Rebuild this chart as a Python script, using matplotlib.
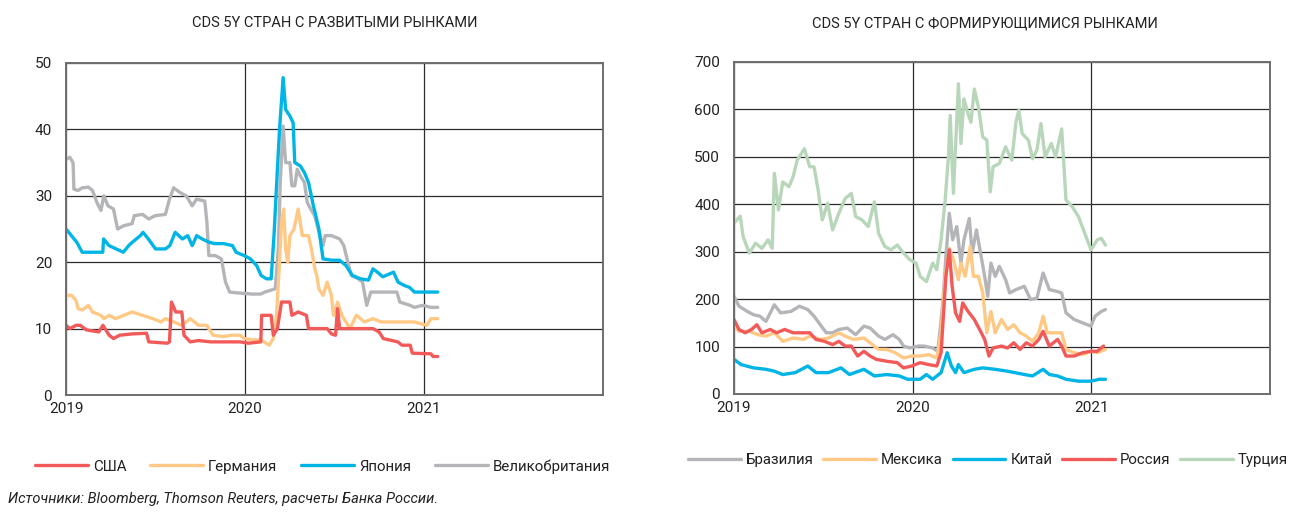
import matplotlib
matplotlib.use("Agg")
import matplotlib.pyplot as plt

plt.rcParams['font.family'] = ['Roboto', 'DejaVu Sans']

# time is in years since 1 Jan 2019
usa_t = [0.000, 0.021, 0.056, 0.079, 0.114, 0.183, 0.206, 0.241, 0.265, 0.299, 0.369, 0.450, 0.462,
         0.566, 0.578, 0.589, 0.613, 0.647, 0.659, 0.694, 0.740, 0.810, 0.972, 1.019, 1.088, 1.093,
         1.146, 1.158, 1.181, 1.204, 1.251, 1.262, 1.297, 1.343, 1.355, 1.459, 1.483, 1.506, 1.517,
         1.529, 1.715, 1.749, 1.773, 1.854, 1.877, 1.923, 1.935, 2.039, 2.051, 2.077]
usa = [10.5, 10.0, 10.5, 10.5, 9.8, 9.5, 10.5, 9.0, 8.5, 9.0, 9.2, 9.3, 8.0,
       7.8, 8.0, 14.0, 12.5, 12.5, 9.0, 8.0, 8.2, 8.0, 8.0, 7.8, 8.0, 12.0,
       12.0, 9.0, 10.0, 14.0, 14.0, 12.0, 12.5, 12.0, 10.0, 10.0, 9.2, 9.0, 13.0,
       10.0, 10.0, 9.5, 8.5, 8.0, 7.5, 7.5, 6.3, 6.2, 5.8, 5.8]

ger_t = [0.000, 0.032, 0.056, 0.067, 0.090, 0.125, 0.148, 0.195, 0.211, 0.241, 0.276, 0.323, 0.369,
         0.427, 0.485, 0.531, 0.555, 0.601, 0.647, 0.694, 0.740, 0.787, 0.821, 0.879, 0.926, 0.972,
         0.995, 1.042, 1.088, 1.135, 1.158, 1.176, 1.193, 1.204, 1.216, 1.227, 1.239, 1.251, 1.274,
         1.297, 1.320, 1.355, 1.371, 1.390, 1.401, 1.413, 1.436, 1.459, 1.483, 1.494, 1.517, 1.541,
         1.564, 1.587, 1.622, 1.668, 1.715, 1.761, 1.831, 1.900, 1.947, 2.016, 2.039, 2.077]
ger = [15.0, 15.0, 14.2, 13.0, 12.8, 13.5, 12.5, 12.0, 11.5, 12.0, 11.5, 12.0, 12.5,
       12.0, 11.5, 11.0, 11.5, 11.0, 10.5, 11.5, 10.5, 10.5, 9.0, 8.8, 9.0, 9.0,
       8.5, 8.3, 8.3, 7.5, 8.5, 12.0, 20.0, 26.0, 28.0, 22.0, 20.0, 24.0, 25.0,
       28.0, 24.0, 24.0, 22.0, 19.0, 18.0, 16.0, 15.0, 17.0, 15.0, 12.0, 14.0, 12.0,
       11.0, 10.0, 12.0, 11.0, 11.5, 11.0, 11.0, 11.0, 11.0, 10.5, 11.5, 11.5]

jpn_t = [0.000, 0.030, 0.060, 0.090, 0.205, 0.210, 0.240, 0.280, 0.320, 0.350, 0.370, 0.415, 0.430,
         0.460, 0.500, 0.555, 0.580, 0.610, 0.650, 0.680, 0.705, 0.730, 0.760, 0.800, 0.830, 0.880,
         0.930, 0.950, 0.995, 1.030, 1.065, 1.090, 1.120, 1.146, 1.162, 1.181, 1.193, 1.213, 1.227,
         1.251, 1.269, 1.278, 1.309, 1.332, 1.355, 1.378, 1.413, 1.436, 1.483, 1.529, 1.564, 1.600,
         1.645, 1.690, 1.715, 1.740, 1.770, 1.830, 1.855, 1.890, 1.920, 1.947, 2.077]
jpn = [25.0, 24.0, 23.0, 21.5, 21.5, 23.5, 22.5, 22.0, 21.5, 22.5, 23.0, 24.0, 24.5,
       23.5, 22.0, 22.0, 22.5, 24.5, 23.5, 24.0, 22.5, 24.0, 23.5, 23.0, 22.8, 22.8,
       22.5, 21.5, 21.0, 20.5, 19.5, 18.0, 17.5, 17.5, 24.0, 34.0, 40.0, 47.8, 43.0,
       42.0, 41.0, 35.0, 34.5, 33.5, 32.0, 29.0, 25.0, 20.5, 20.3, 20.3, 19.5, 18.0,
       17.5, 17.3, 19.0, 18.5, 17.8, 18.5, 17.0, 16.5, 16.2, 15.5, 15.5]

gbr_t = [0.000, 0.021, 0.039, 0.044, 0.067, 0.090, 0.125, 0.148, 0.172, 0.195, 0.211, 0.234, 0.265,
         0.288, 0.323, 0.369, 0.381, 0.427, 0.462, 0.497, 0.555, 0.578, 0.601, 0.636, 0.671, 0.705,
         0.729, 0.775, 0.787, 0.798, 0.833, 0.868, 0.891, 0.914, 0.949, 0.995, 1.042, 1.088, 1.111,
         1.146, 1.169, 1.186, 1.197, 1.213, 1.227, 1.251, 1.262, 1.278, 1.292, 1.309, 1.332, 1.348,
         1.367, 1.390, 1.413, 1.436, 1.448, 1.483, 1.529, 1.552, 1.575, 1.594, 1.633, 1.657, 1.680,
         1.703, 1.761, 1.849, 1.865, 1.923, 1.947, 1.993, 2.039, 2.077]
gbr = [35.5, 35.8, 35.0, 31.0, 30.8, 31.2, 31.3, 30.8, 29.0, 27.8, 30.0, 28.5, 28.0,
       25.0, 25.5, 25.8, 27.0, 27.2, 26.5, 27.0, 27.2, 29.5, 31.2, 30.5, 30.0, 28.5,
       29.5, 29.2, 26.0, 21.0, 21.0, 20.5, 17.0, 15.5, 15.4, 15.3, 15.2, 15.2, 15.5,
       15.8, 16.0, 22.0, 32.0, 40.5, 35.0, 35.0, 31.5, 31.5, 34.0, 33.0, 32.0, 29.0,
       28.0, 27.0, 24.5, 22.5, 24.0, 24.0, 23.5, 22.5, 20.0, 18.0, 17.5, 17.0, 13.5,
       15.5, 15.5, 15.5, 14.0, 13.5, 13.2, 13.5, 13.2, 13.2]

bra_t = [0.000, 0.028, 0.075, 0.110, 0.145, 0.179, 0.226, 0.261, 0.319, 0.366, 0.413, 0.448, 0.483,
         0.517, 0.552, 0.587, 0.634, 0.681, 0.727, 0.762, 0.809, 0.844, 0.890, 0.925, 0.949, 0.984,
         1.030, 1.065, 1.112, 1.140, 1.154, 1.170, 1.186, 1.205, 1.224, 1.247, 1.270, 1.287, 1.317,
         1.333, 1.357, 1.380, 1.403, 1.420, 1.438, 1.462, 1.485, 1.520, 1.543, 1.578, 1.625, 1.660,
         1.695, 1.730, 1.765, 1.811, 1.834, 1.858, 1.904, 1.951, 1.998, 2.021, 2.056, 2.079]
bra = [206, 185, 174, 167, 164, 153, 188, 171, 174, 185, 178, 164, 146,
       129, 129, 136, 139, 125, 143, 139, 122, 115, 125, 115, 101, 97,
       101, 101, 97, 90, 136, 199, 290, 381, 325, 353, 276, 325, 370,
       297, 346, 297, 248, 206, 276, 248, 269, 241, 213, 220, 227, 199,
       202, 255, 220, 216, 213, 171, 157, 150, 143, 164, 174, 178]

mex_t = [0.000, 0.028, 0.086, 0.133, 0.179, 0.226, 0.273, 0.331, 0.389, 0.424, 0.483, 0.529, 0.587,
         0.622, 0.669, 0.727, 0.762, 0.809, 0.855, 0.902, 0.949, 0.995, 1.042, 1.089, 1.135, 1.159,
         1.182, 1.205, 1.228, 1.256, 1.270, 1.294, 1.322, 1.340, 1.368, 1.392, 1.415, 1.438, 1.462,
         1.497, 1.531, 1.566, 1.601, 1.636, 1.671, 1.706, 1.730, 1.753, 1.834, 1.858, 1.904, 1.951,
         1.998, 2.033, 2.079]
mex = [146, 132, 132, 125, 122, 129, 111, 118, 115, 122, 115, 118, 129,
       122, 115, 118, 108, 94, 94, 87, 76, 80, 80, 83, 76, 129,
       248, 307, 283, 241, 276, 248, 311, 248, 248, 213, 129, 174, 129,
       157, 136, 146, 129, 122, 111, 129, 164, 129, 129, 94, 87, 83,
       90, 87, 94]

chn_t = [0.000, 0.040, 0.110, 0.179, 0.226, 0.273, 0.343, 0.413, 0.459, 0.529, 0.599, 0.646, 0.727,
         0.786, 0.855, 0.925, 0.972, 1.042, 1.077, 1.112, 1.159, 1.193, 1.217, 1.240, 1.256, 1.287,
         1.345, 1.392, 1.462, 1.531, 1.625, 1.671, 1.730, 1.765, 1.811, 1.858, 1.928, 1.998, 2.044,
         2.079]
chn = [73, 62, 55, 52, 48, 41, 45, 59, 45, 45, 55, 41, 52,
       38, 41, 38, 31, 31, 41, 31, 45, 87, 59, 45, 62, 45,
       52, 55, 52, 48, 41, 38, 52, 41, 38, 31, 27, 27, 31,
       31]

rus_t = [0.000, 0.028, 0.063, 0.098, 0.128, 0.156, 0.203, 0.238, 0.284, 0.331, 0.424, 0.459, 0.506,
         0.552, 0.587, 0.622, 0.657, 0.692, 0.727, 0.762, 0.797, 0.855, 0.914, 0.949, 0.995, 1.042,
         1.089, 1.135, 1.159, 1.186, 1.205, 1.221, 1.240, 1.263, 1.280, 1.310, 1.345, 1.380, 1.403,
         1.427, 1.450, 1.497, 1.531, 1.566, 1.601, 1.636, 1.671, 1.706, 1.730, 1.765, 1.811, 1.834,
         1.858, 1.904, 1.951, 1.998, 2.033, 2.068]
rus = [157, 136, 129, 136, 146, 129, 136, 129, 136, 129, 129, 115, 111,
       104, 111, 101, 101, 80, 90, 80, 73, 69, 66, 55, 59, 66,
       62, 59, 87, 248, 304, 227, 171, 153, 192, 174, 157, 132, 115,
       80, 97, 101, 97, 108, 94, 108, 101, 115, 132, 101, 115, 101,
       80, 80, 87, 90, 90, 101]

tur_t = [0.000, 0.035, 0.051, 0.086, 0.121, 0.156, 0.191, 0.214, 0.226, 0.249, 0.273, 0.308, 0.331,
         0.354, 0.394, 0.424, 0.448, 0.471, 0.494, 0.524, 0.552, 0.587, 0.622, 0.657, 0.681, 0.716,
         0.751, 0.786, 0.809, 0.844, 0.879, 0.914, 0.949, 0.984, 1.019, 1.042, 1.077, 1.112, 1.135,
         1.159, 1.182, 1.200, 1.210, 1.228, 1.256, 1.270, 1.287, 1.310, 1.326, 1.345, 1.368, 1.392,
         1.415, 1.434, 1.450, 1.485, 1.520, 1.555, 1.578, 1.594, 1.613, 1.648, 1.671, 1.695, 1.718,
         1.741, 1.776, 1.800, 1.834, 1.858, 1.893, 1.928, 1.963, 1.998, 2.033, 2.056, 2.079]
tur = [360, 375, 332, 297, 318, 307, 325, 307, 465, 388, 447, 437, 458,
       493, 517, 479, 479, 430, 367, 402, 346, 381, 412, 423, 374, 367,
       353, 405, 339, 311, 304, 314, 297, 283, 276, 248, 237, 276, 262,
       325, 409, 500, 587, 423, 654, 528, 622, 591, 573, 643, 605, 542,
       535, 426, 479, 486, 521, 493, 573, 598, 549, 535, 496, 514, 570,
       500, 528, 500, 559, 409, 395, 374, 339, 304, 325, 328, 314]

RED, ORANGE, BLUE = '#f25a5a', '#ffc985', '#00b5e6'
GRAY, GREEN = '#b4b5b8', '#b8d6b9'
LW = 2.4

fig = plt.figure(figsize=(13.03, 5.15), dpi=100)
ax1 = fig.add_axes([0.0507, 0.233, 0.412, 0.6447])
ax2 = fig.add_axes([0.5633, 0.235, 0.4114, 0.6447])


def style(ax, ymax, step):
    ax.set_xlim(2019, 2022)
    ax.set_ylim(0, ymax)
    ax.set_xticks([2019, 2020, 2021])
    ax.set_xticklabels(['2019', '2020', '2021'])
    ax.set_yticks(range(0, ymax + 1, step))
    ax.tick_params(length=0, labelsize=11, colors='#222222', pad=5)
    ax.tick_params(axis='y', pad=10)
    ax.grid(True, color='#2b2b2b', linewidth=0.9)
    ax.set_axisbelow(True)
    for s in ax.spines.values():
        s.set_color('#6e6e6e')
        s.set_linewidth(1.4)


def draw(ax, t, v, color, label):
    ax.plot([2019 + x for x in t], v, color=color, lw=LW, label=label,
            solid_capstyle='round', solid_joinstyle='round')


draw(ax1, gbr_t, gbr, GRAY, 'Великобритания')
draw(ax1, jpn_t, jpn, BLUE, 'Япония')
draw(ax1, ger_t, ger, ORANGE, 'Германия')
draw(ax1, usa_t, usa, RED, 'США')
style(ax1, 50, 10)

draw(ax2, tur_t, tur, GREEN, 'Турция')
draw(ax2, bra_t, bra, GRAY, 'Бразилия')
draw(ax2, mex_t, mex, ORANGE, 'Мексика')
draw(ax2, rus_t, rus, RED, 'Россия')
draw(ax2, chn_t, chn, BLUE, 'Китай')
style(ax2, 700, 100)

fig.text(0.257, 0.955, 'CDS 5Y СТРАН С РАЗВИТЫМИ РЫНКАМИ', ha='center', va='center',
         fontsize=10.5, color='#222222')
fig.text(0.756, 0.955, 'CDS 5Y СТРАН С ФОРМИРУЮЩИМИСЯ РЫНКАМИ', ha='center', va='center',
         fontsize=10.5, color='#222222')

h1, l1 = ax1.get_legend_handles_labels()
order1 = ['США', 'Германия', 'Япония', 'Великобритания']
hd1 = dict(zip(l1, h1))
ax1.legend([hd1[k] for k in order1], order1, loc='center', bbox_to_anchor=(0.478, -0.215),
           ncol=4, frameon=False, fontsize=10.8, handlelength=3.5, handletextpad=0.35,
           columnspacing=1.6, labelcolor='#222222')

h2, l2 = ax2.get_legend_handles_labels()
order2 = ['Бразилия', 'Мексика', 'Китай', 'Россия', 'Турция']
hd2 = dict(zip(l2, h2))
ax2.legend([hd2[k] for k in order2], order2, loc='center', bbox_to_anchor=(0.474, -0.2),
           ncol=5, frameon=False, fontsize=10.8, handlelength=3.5, handletextpad=0.35,
           columnspacing=0.65, labelcolor='#222222')

fig.text(0.006, 0.018, 'Источники: Bloomberg, Thomson Reuters, расчеты Банка России.',
         fontsize=10.5, style='italic', color='#222222', ha='left', va='bottom')

fig.savefig('out.png', dpi=100)
